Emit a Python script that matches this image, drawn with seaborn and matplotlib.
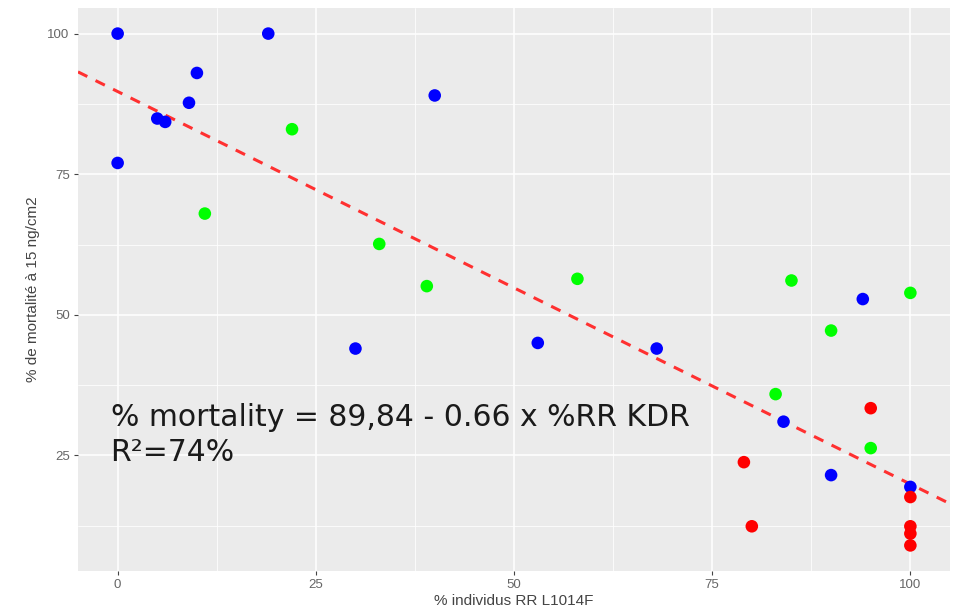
import matplotlib
matplotlib.use("Agg")
import matplotlib.pyplot as plt
import seaborn as sns
import pandas as pd
import numpy as np

# data
blue_x = [0, 0, 19, 10, 9, 5, 6, 40, 30, 53, 68, 84, 90, 94, 100]
blue_y = [100, 77, 100, 93, 87.7, 84.9, 84.3, 89, 44, 45, 44, 31, 21.5, 52.8, 19.4]
green_x = [22, 11, 33, 39, 58, 85, 100, 90, 83, 95]
green_y = [83, 68, 62.6, 55.1, 56.4, 56.1, 53.9, 47.2, 35.9, 26.3]
red_x = [95, 79, 80, 100, 100, 100, 100]
red_y = [33.4, 23.8, 12.4, 17.6, 12.4, 11.1, 9.0]

# dashed trend line as drawn in the reference
line_intercept = 89.7
line_slope = -0.698

x_ticks = [0, 25, 50, 75, 100]
y_ticks = [25, 50, 75, 100]
x_label = "% individus RR L1014F"
y_label = "% de mortalité à 15 ng/cm2"
annotation = "% mortality = 89,84 - 0.66 x %RR KDR\nR²=74%"

df = pd.DataFrame({
    "x": blue_x + green_x + red_x,
    "y": blue_y + green_y + red_y,
    "grp": ["blue"] * len(blue_x) + ["green"] * len(green_x) + ["red"] * len(red_x),
})
palette = {"blue": "#0000FF", "green": "#00FF00", "red": "#FF0000"}

sns.set_theme(style="darkgrid")
plt.rcParams["font.family"] = ["DejaVu Sans"]

fig = plt.figure(figsize=(9.54, 6.13), dpi=100)
ax = fig.add_axes([78 / 954, 1 - 571 / 613, (950 - 78) / 954, (571 - 8) / 613])
ax.set_facecolor("#EBEBEB")

xmin, xmax = df["x"].min(), df["x"].max()
ymin, ymax = df["y"].min(), df["y"].max()

sns.scatterplot(data=df, x="x", y="y", hue="grp", palette=palette, s=82,
                edgecolor="none", legend=False, ax=ax, zorder=3)
ax.axline((0, line_intercept), slope=line_slope, color="#FF3030", lw=2.2,
          ls=(0, (3.4, 3.0)), zorder=2.5)

ax.set_xlim(xmin - 0.05 * (xmax - xmin), xmax + 0.05 * (xmax - xmin))
ax.set_ylim(ymin - 0.05 * (ymax - ymin), ymax + 0.05 * (ymax - ymin))

ax.set_xticks(x_ticks)
ax.set_yticks(y_ticks)
ax.set_xticks([12.5, 37.5, 62.5, 87.5], minor=True)
ax.set_yticks([12.5, 37.5, 62.5, 87.5], minor=True)
ax.grid(which="major", color="white", lw=1.1)
ax.grid(which="minor", color="white", lw=0.55)
ax.tick_params(which="major", length=3, width=0.8, color="#444444", labelsize=9.5,
               labelcolor="#666666", pad=3, bottom=True, left=True)
ax.tick_params(which="minor", length=0)
for lab in ax.get_xticklabels() + ax.get_yticklabels():
    lab.set_family("Liberation Sans")
for s in ax.spines.values():
    s.set_visible(False)

ax.set_xlabel(x_label, fontsize=11, color="#444444", labelpad=2, family="Liberation Sans")
ax.set_ylabel(y_label, fontsize=11, color="#444444", labelpad=5, family="Liberation Sans")

ax.text(-0.9, 24.0, annotation, fontsize=21.5, color="#1A1A1A", ha="left", va="baseline",
        linespacing=1.25, zorder=4)

fig.savefig("out.png", dpi=100)
